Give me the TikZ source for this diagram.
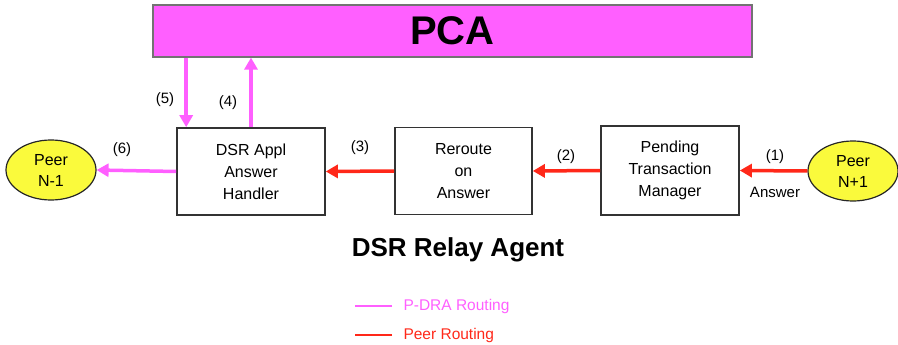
\documentclass[tikz,border=0pt]{standalone}
\usepackage{fontspec}
\setmainfont{Liberation Sans}
\usetikzlibrary{arrows.meta,shapes.geometric}
\definecolor{pdramag}{RGB}{255,95,255}
\definecolor{peerred}{RGB}{255,40,25}
\definecolor{peeryel}{RGB}{250,250,60}
\begin{document}
\begin{tikzpicture}[>={Triangle[length=12pt,width=13pt]},x=1pt,y=-1pt]
	\tikzset{box/.style={draw=black!80,line width=1.6pt,fill=white,minimum width=148pt,minimum height=87pt,inner sep=0pt,align=center,font=\fontsize{16}{22}\selectfont}}
	\tikzset{peer/.style={ellipse,draw=black!85,line width=1.2pt,fill=peeryel,minimum width=90pt,minimum height=60pt,inner sep=0pt,align=center,font=\fontsize{16}{21}\selectfont}}
	\tikzset{pdra/.style={draw=pdramag,line width=3.5pt}}
	\tikzset{peerr/.style={draw=peerred,line width=3.5pt}}
	\tikzset{num/.style={font=\fontsize{15}{15}\selectfont}}
	\tikzset{leg/.style={font=\fontsize{15.5}{15.5}\selectfont,anchor=west}}
	\useasboundingbox (0,0) rectangle (898,345);
	\node[draw=black!55,line width=1.2pt,fill=pdramag,minimum width=599pt,minimum height=52pt,inner sep=0pt,font=\fontsize{40}{40}\selectfont\bfseries] (pca) at (452.5,31) {PCA};
	\node[box] (dsr) at (251,171.5) {DSR Appl\\Answer\\Handler};
	\node[box,minimum width=137pt] (rer) at (463.5,171) {Reroute\\on\\Answer};
	\node[box,minimum width=138pt,minimum height=89pt] (ptm) at (670,170.5) {Pending\\Transaction\\Manager};
	\node[peer] (peerl) at (51,170) {Peer\\N-1};
	\node[peer] (peerr) at (853,171) {Peer\\N+1};
	\coordinate (a5) at ([xshift=10pt]dsr.north west);
	\draw[pdra,->] (pca.south -| a5) -- (a5);
	\draw[pdra,->] (dsr.north) -- (dsr.north |- pca.south);
	\draw[pdra,->] (dsr.west) -- (peerl.east);
	\draw[peerr,->] (peerr.west) -- (ptm.east);
	\draw[peerr,->] (ptm.west) -- (rer.east);
	\draw[peerr,->] (rer.west) -- (dsr.east);
	\node[num] (n1) at (775,157) {(1)};
	\node[num] (ans) at (775,192) {Answer};
	\node[num] (n2) at (566,157) {(2)};
	\node[num] (n3) at (360,148) {(3)};
	\node[num] (n4) at (228,103) {(4)};
	\node[num] (n5) at (165,100) {(5)};
	\node[num] (n6) at (122,150) {(6)};
	\node[font=\fontsize{26}{26}\selectfont\bfseries] (dra) at (458,250) {DSR Relay Agent};
	\node[leg,text=pdramag] (lgp) at (400,306) {P-DRA Routing};
	\node[leg,text=peerred] (lgr) at (400,335) {Peer Routing};
	\draw[draw=pdramag,line width=1.5pt] ([xshift=-8pt]lgp.west) -- ++(-37,0);
	\draw[draw=peerred,line width=1.5pt] ([xshift=-8pt]lgr.west) -- ++(-37,0);
\end{tikzpicture}
\end{document}
